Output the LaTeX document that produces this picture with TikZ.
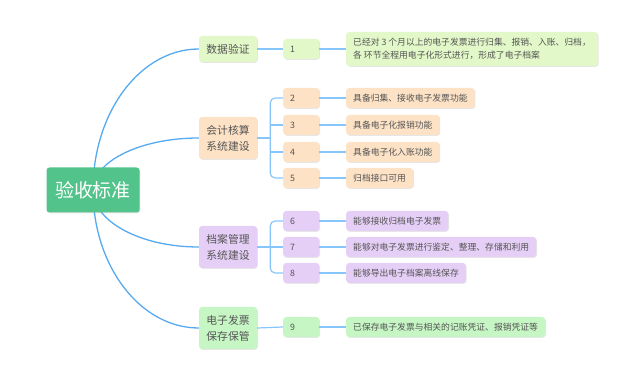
\documentclass[tikz,border=0pt]{standalone}
\usepackage{fontspec}
\setmainfont{Noto Sans CJK SC}
\usepackage{xcolor}
\usetikzlibrary{shadows, calc}

\definecolor{rootgreen}{RGB}{82,195,139}
\definecolor{limefill}{RGB}{226,248,200}
\definecolor{peachfill}{RGB}{253,226,198}
\definecolor{lavfill}{RGB}{230,207,247}
\definecolor{mintfill}{RGB}{199,246,197}
\definecolor{curveblue}{RGB}{86,170,240}
\definecolor{linkblue}{RGB}{135,198,250}
\definecolor{txtgray}{RGB}{85,85,85}

\begin{document}
\begin{tikzpicture}[
  x=1pt, y=-1pt,
  shade/.style={drop shadow={shadow xshift=0.8pt, shadow yshift=-0.8pt,
                opacity=0.2, fill=black!50}},
  root/.style={fill=rootgreen, rounded corners=3pt, text=white,
               minimum width=93pt, minimum height=45pt,
               font=\fontsize{19}{22}\selectfont, shade},
  topic/.style={rounded corners=3pt, text=txtgray, align=center,
                minimum width=58pt, minimum height=26pt, inner sep=2pt,
                font=\fontsize{10.8}{16}\selectfont, shade},
  num/.style={rounded corners=3pt, text=txtgray, anchor=west,
              text width=22pt, align=left, inner xsep=7pt, inner ysep=0pt,
              minimum height=20pt, font=\fontsize{8.8}{13}\selectfont, shade},
  leaf/.style={rounded corners=3pt, text=txtgray, anchor=west, align=left,
               inner xsep=7pt, inner ysep=0pt, minimum height=20pt,
               font=\fontsize{8.8}{13}\selectfont, shade},
  curve/.style={draw=curveblue, line width=1.3pt},
  link/.style={draw=linkblue, line width=1.2pt}
]
\useasboundingbox (0,0) rectangle (630,374);

% first level and leaves
\node[topic, fill=limefill] (sj) at (228,49) {数据验证};
\node[num, fill=limefill] (n1) at (283,49) {1};
\node[leaf, fill=limefill, minimum height=34pt] (t1) at (346,49)
  {已经对 3 个月以上的电子发票进行归集、报销、入账、归档，\\各 环节全程用电子化形式进行，形成了电子档案};

\node[topic, fill=peachfill, minimum height=42pt] (kj) at (228,138) {会计核算\\系统建设};
\node[num, fill=peachfill] (n2) at (283,98) {2};
\node[num, fill=peachfill] (n3) at (283,125) {3};
\node[num, fill=peachfill] (n4) at (283,152) {4};
\node[num, fill=peachfill] (n5) at (283,178) {5};
\node[leaf, fill=peachfill] (t2) at (346,98) {具备归集、接收电子发票功能};
\node[leaf, fill=peachfill] (t3) at (346,125) {具备电子化报销功能};
\node[leaf, fill=peachfill] (t4) at (346,152) {具备电子化入账功能};
\node[leaf, fill=peachfill] (t5) at (346,178) {归档接口可用};

\node[topic, fill=lavfill, minimum height=42pt] (da) at (228,247) {档案管理\\系统建设};
\node[num, fill=lavfill] (n6) at (283,221) {6};
\node[num, fill=lavfill] (n7) at (283,247) {7};
\node[num, fill=lavfill] (n8) at (283,273) {8};
\node[leaf, fill=lavfill] (t6) at (346,221) {能够接收归档电子发票};
\node[leaf, fill=lavfill] (t7) at (346,247) {能够对电子发票进行鉴定、整理、存储和利用};
\node[leaf, fill=lavfill] (t8) at (346,273) {能够导出电子档案离线保存};

\node[topic, fill=mintfill, minimum height=42pt] (dz) at (228,328) {电子发票\\保存保管};
\node[num, fill=mintfill] (n9) at (283,327) {9};
\node[leaf, fill=mintfill] (t9) at (346,327) {已保存电子发票与相关的记账凭证、报销凭证等};

% curves from the centre (quarter ellipses)
\coordinate (hub) at (93,190);
\foreach \t in {sj,kj,da,dz}
  \draw[curve] (hub) .. controls ($(hub)!0.552!(hub |- \t.west)$)
    and ($(\t.west)!0.552!(hub |- \t.west)$) .. (\t.west);

\node[root] (ys) at (93,190) {验收标准};

% brackets
\coordinate (kjfork) at ([xshift=13pt]kj.east);
\coordinate (dafork) at ([xshift=13pt]da.east);
\draw[link] (sj) -- (n1);
\draw[link] (kj.east) -- (kjfork);
\draw[link, rounded corners=5pt] (n2.west) -| (kjfork) |- (n5.west);
\draw[link] (kjfork |- n3.west) -- (n3.west);
\draw[link] (kjfork |- n4.west) -- (n4.west);
\draw[link] (da.east) -- (n7.west);
\draw[link, rounded corners=5pt] (n6.west) -| (dafork) |- (n8.west);
\draw[link] (dz.east) -- (n9.west);

% numbers to leaves
\foreach \i in {1,...,9}
  \draw[link] (n\i) -- (t\i);
\end{tikzpicture}
\end{document}
